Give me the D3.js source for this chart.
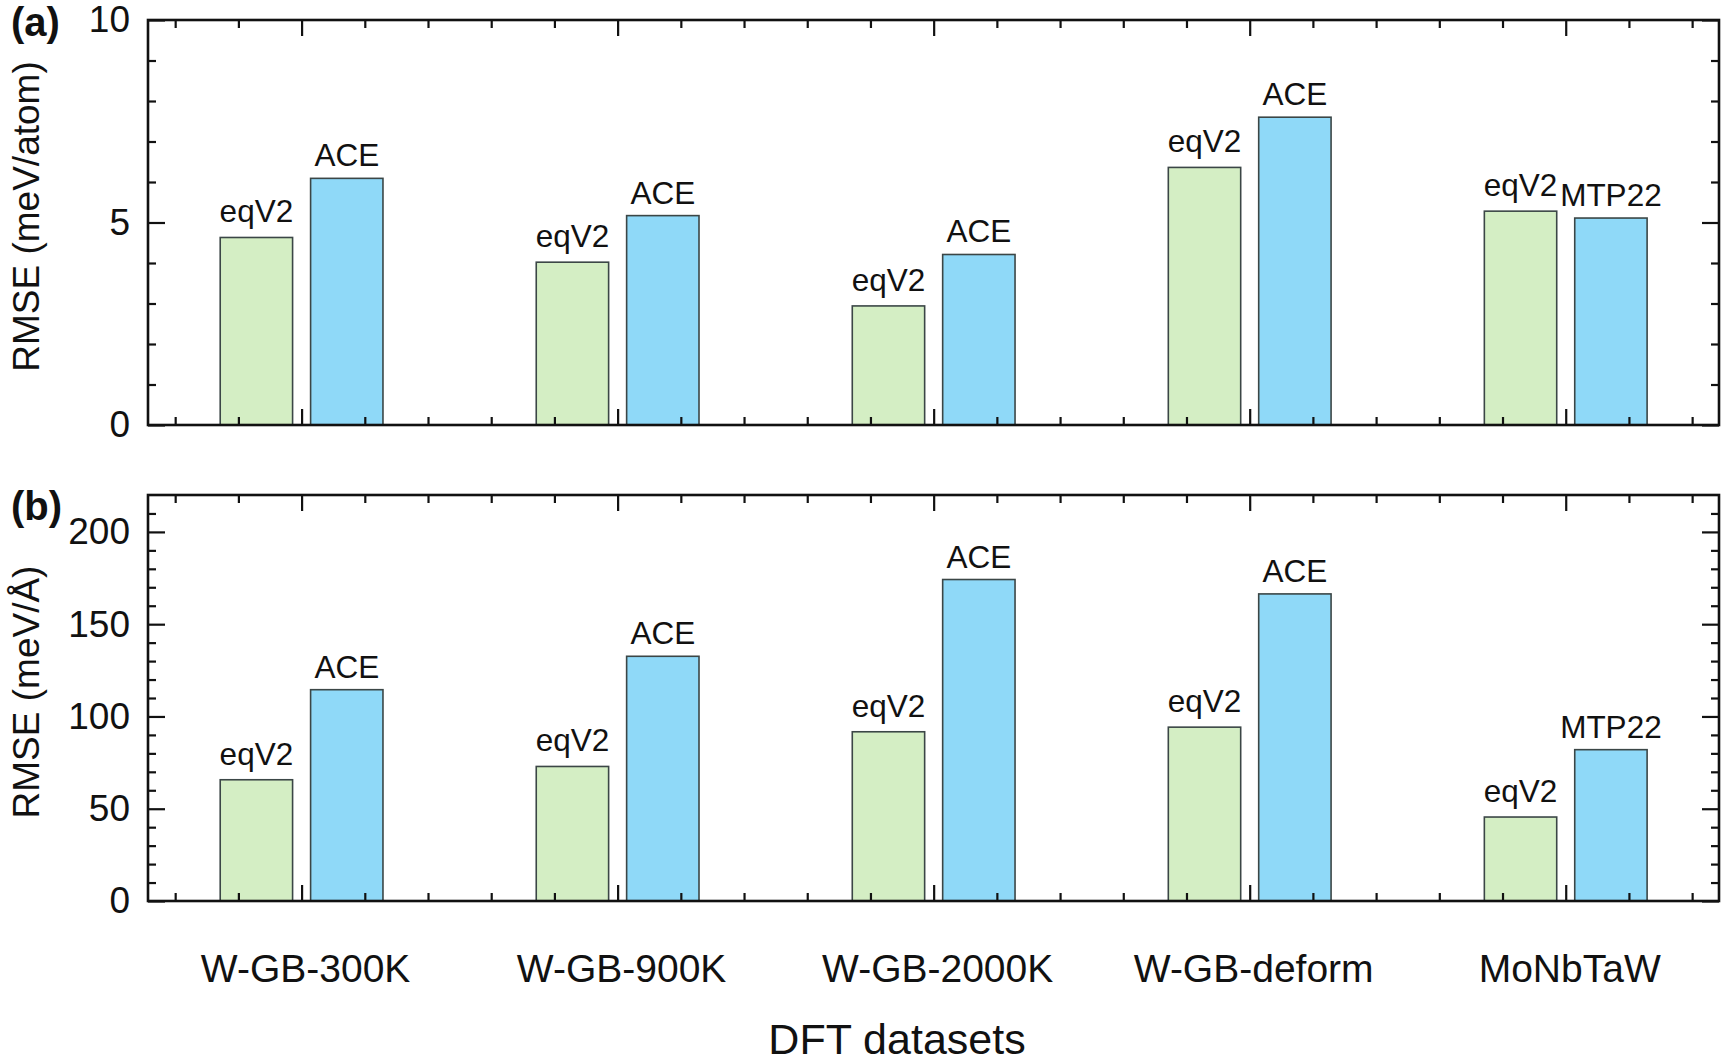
<!DOCTYPE html>
<html>
<head>
<meta charset="utf-8">
<script src="https://d3js.org/d3.v7.min.js"></script>
<style>
  body { margin: 0; background: #fff; }
  svg text { font-family: "Liberation Sans", Arial, sans-serif; fill: #111; }
</style>
</head>
<body>
<svg id="chart" width="1725" height="1063"></svg>
<script>
// datasets on the x axis
var datasets = ["W-GB-300K", "W-GB-900K", "W-GB-2000K", "W-GB-deform", "MoNbTaW"];
// second bar label per group
var otherNames = ["ACE", "ACE", "ACE", "ACE", "MTP22"];

// (a) energy RMSE, meV/atom
var energyEqV2 = [4.63, 4.02, 2.94, 6.36, 5.28];
var energyOther = [6.09, 5.17, 4.21, 7.60, 5.11];

// (b) force RMSE, meV/Å
var forceEqV2 = [65.7, 72.9, 91.7, 94.2, 45.5];
var forceOther = [114.5, 132.6, 174.2, 166.4, 82.0];

var svg = d3.select("#chart");
var left = 148, right = 1719;

var x = d3.scaleLinear().domain([0.514, 5.485]).range([left, right]);
var majorX = d3.range(1, 6);
var minorX = d3.range(0.6, 5.45, 0.2).filter(function(v) { return Math.abs(v - Math.round(v)) > 0.05; });

var barW = x(0.229) - x(0);
var offset = 0.143;

function panel(opts) {
  var g = svg.append("g");
  var y = d3.scaleLinear().domain(opts.domain).range([opts.bottom, opts.top]);

  // bars
  var rows = [];
  for (var i = 0; i < datasets.length; i++) {
    rows.push({ i: i + 1, v: opts.eqv2[i], name: "eqV2", fill: "#d4eec4", dx: -offset });
    rows.push({ i: i + 1, v: opts.other[i], name: otherNames[i], fill: "#8fd9f8", dx: offset });
  }
  g.selectAll("rect.bar").data(rows).enter().append("rect")
    .attr("class", "bar")
    .attr("x", function(d) { return x(d.i + d.dx) - barW / 2; })
    .attr("width", barW)
    .attr("y", function(d) { return y(d.v); })
    .attr("height", function(d) { return y(0) - y(d.v); })
    .attr("fill", function(d) { return d.fill; })
    .attr("stroke", "#3b4646")
    .attr("stroke-width", 1.6);

  g.selectAll("text.lbl").data(rows).enter().append("text")
    .attr("class", "lbl")
    .attr("x", function(d) { return x(d.i + d.dx); })
    .attr("y", function(d) { return y(d.v) - (d.name == "eqV2" ? 15 : 12); })
    .attr("text-anchor", "middle")
    .style("font-size", "31.5px")
    .text(function(d) { return d.name; });

  // ticks on all four sides, pointing inward
  function drawTicks(axis, transform) {
    var a = g.append("g").attr("transform", transform).call(axis);
    a.select(".domain").remove();
    a.selectAll("line").attr("stroke", "#111").attr("stroke-width", 2.2);
    return a;
  }
  drawTicks(d3.axisBottom(x).tickValues(majorX).tickSize(-16).tickFormat(""), "translate(0," + opts.bottom + ")");
  drawTicks(d3.axisBottom(x).tickValues(minorX).tickSize(-8).tickFormat(""), "translate(0," + opts.bottom + ")");
  drawTicks(d3.axisTop(x).tickValues(majorX).tickSize(-16).tickFormat(""), "translate(0," + opts.top + ")");
  drawTicks(d3.axisTop(x).tickValues(minorX).tickSize(-8).tickFormat(""), "translate(0," + opts.top + ")");

  var ya = drawTicks(d3.axisLeft(y).tickValues(opts.major).tickSize(-17).tickPadding(18), "translate(" + left + ",0)");
  ya.selectAll("text").style("font-size", "37px").attr("fill", "#111");
  drawTicks(d3.axisLeft(y).tickValues(opts.minor).tickSize(-8).tickFormat(""), "translate(" + left + ",0)");
  drawTicks(d3.axisRight(y).tickValues(opts.major).tickSize(-17).tickFormat(""), "translate(" + right + ",0)");
  drawTicks(d3.axisRight(y).tickValues(opts.minor).tickSize(-8).tickFormat(""), "translate(" + right + ",0)");

  // frame
  g.append("rect")
    .attr("x", left).attr("y", opts.top)
    .attr("width", right - left).attr("height", opts.bottom - opts.top)
    .attr("fill", "none").attr("stroke", "#111").attr("stroke-width", 2.6);

  // y title
  g.append("text")
    .attr("transform", "translate(39," + ((opts.top + opts.bottom) / 2 - 6) + ") rotate(-90)")
    .attr("text-anchor", "middle")
    .style("font-size", "37px")
    .text(opts.title);

  g.append("text")
    .attr("x", opts.tagX).attr("y", opts.tagY)
    .style("font-size", "40px").style("font-weight", "bold")
    .text(opts.tag);

  return y;
}

function minors(step, max, every) {
  return d3.range(0, max + step / 2, step).filter(function(v) { return Math.round(v / step) % every !== 0; });
}

panel({
  top: 20, bottom: 425, domain: [0, 10],
  major: [0, 5, 10], minor: minors(1, 9, 5),
  eqv2: energyEqV2, other: energyOther,
  title: "RMSE (meV/atom)", tag: "(a)", tagX: 11, tagY: 36
});

panel({
  top: 495, bottom: 901, domain: [0, 220],
  major: [0, 50, 100, 150, 200], minor: minors(10, 210, 5),
  eqv2: forceEqV2, other: forceOther,
  title: "RMSE (meV/Å)", tag: "(b)", tagX: 11, tagY: 520
});

// category labels and x title
svg.selectAll("text.cat").data(datasets).enter().append("text")
  .attr("class", "cat")
  .attr("x", function(d, i) { return x(i + 1) + 4; })
  .attr("y", 982)
  .attr("text-anchor", "middle")
  .style("font-size", "39px")
  .text(function(d) { return d; });

svg.append("text")
  .attr("x", 897).attr("y", 1054)
  .attr("text-anchor", "middle")
  .style("font-size", "43px")
  .text("DFT datasets");
</script>
</body>
</html>
